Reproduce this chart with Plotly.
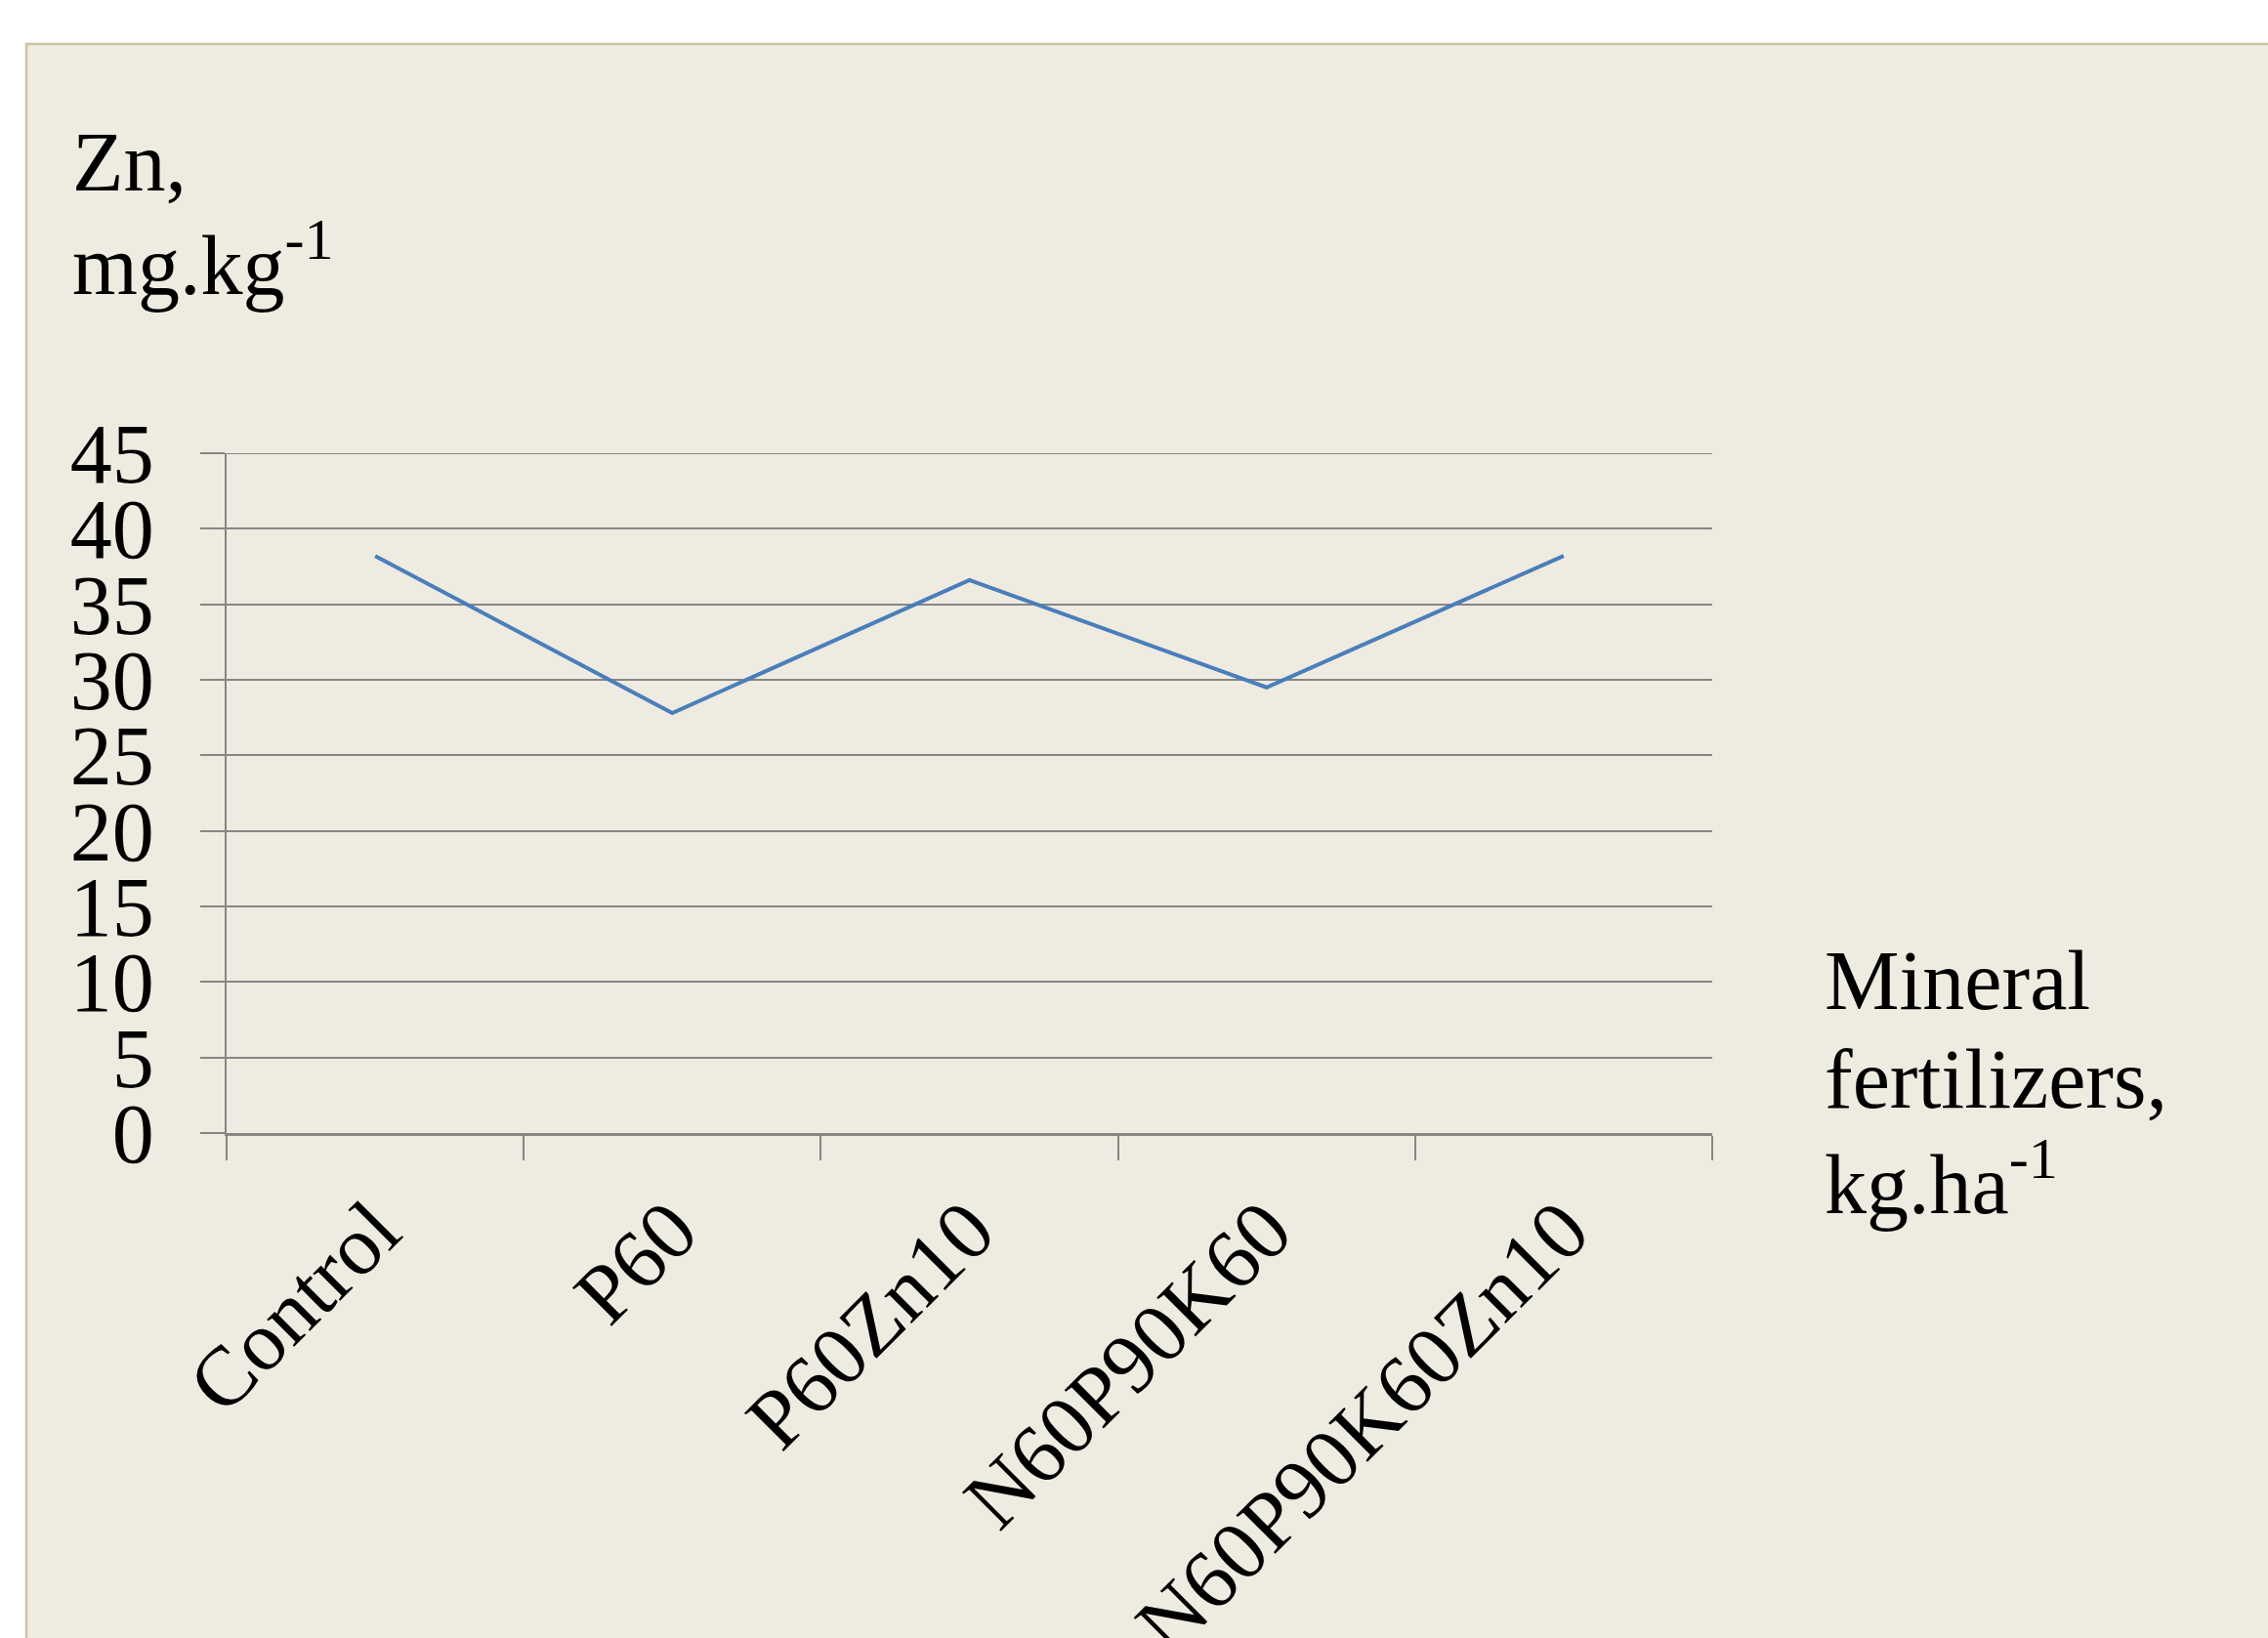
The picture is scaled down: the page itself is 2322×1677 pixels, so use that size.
import plotly.graph_objects as go

categories = ["Control", "P60", "P60Zn10", "N60P90K60", "N60P90K60Zn10"]
zn_values = [38.2, 27.8, 36.6, 29.5, 38.2]
y_ticks = [0, 5, 10, 15, 20, 25, 30, 35, 40, 45]

W, H = 2322, 1677
L, R, T, B = 232, 2322 - 1753, 464, 1677 - 1160
pw, ph = W - L - R, H - T - B

def px(xpix):
    return (xpix - L) / pw

def py(ypix):
    return (H - B - ypix) / ph

FONT = "Liberation Serif"
GRID = "#868686"

fig = go.Figure()
fig.add_trace(go.Scatter(
    x=categories, y=zn_values, mode="lines",
    line=dict(color="#4A7EBB", width=4), showlegend=False,
))

fig.update_layout(
    width=W, height=H, autosize=False,
    margin=dict(l=L, r=R, t=T, b=B, pad=0, autoexpand=False),
    paper_bgcolor="white", plot_bgcolor="rgba(0,0,0,0)",
    font=dict(family=FONT, size=86, color="black"),
    xaxis=dict(
        type="category", tickangle=-45, tickson="boundaries",
        ticks="outside", ticklen=25, tickwidth=2, tickcolor=GRID,
        showline=True, linecolor=GRID, linewidth=2.5,
        showgrid=False, tickfont=dict(family=FONT, size=86),
        range=[-0.5, 4.5], automargin=False, ticklabelstandoff=12,
    ),
    yaxis=dict(
        range=[0, 45], tickvals=y_ticks, ticktext=[str(v) for v in y_ticks],
        ticks="outside", ticklen=25, tickwidth=2, tickcolor=GRID,
        showline=True, linecolor=GRID, linewidth=2,
        showgrid=True, gridcolor=GRID, gridwidth=2,
        zeroline=False, ticklabelstandoff=30, automargin=False,
        tickfont=dict(family=FONT, size=86),
    ),
)

fig.add_shape(
    type="rect", xref="paper", yref="paper",
    x0=px(27), x1=px(2400), y0=py(45), y1=py(1750),
    fillcolor="#EEEBE0", line=dict(color="#C9C3A5", width=2.5), layer="below",
)
# top gridline (plotly drops the gridline that sits on the plot edge)
fig.add_shape(
    type="line", xref="paper", yref="y", x0=0, x1=1,
    y0=max(y_ticks), y1=max(y_ticks), line=dict(color=GRID, width=2), layer="below",
)

labels = [
    ("Zn,", 72, 166),
    ("mg.kg<sup>-1</sup>", 72, 266),
    ("Mineral", 1866, 1004),
    ("fertilizers,", 1866, 1105),
    ("kg.ha<sup>-1</sup>", 1866, 1206),
]
for text, xp, yp in labels:
    fig.add_annotation(
        text=text, xref="paper", yref="paper", x=px(xp), y=py(yp),
        xanchor="left", yanchor="middle", showarrow=False,
        font=dict(family=FONT, size=86, color="black"),
    )

fig.write_html(
    "out.html",
    config={"displayModeBar": False},
    post_script="document.body.style.margin='0';document.body.style.overflow='hidden';",
)
